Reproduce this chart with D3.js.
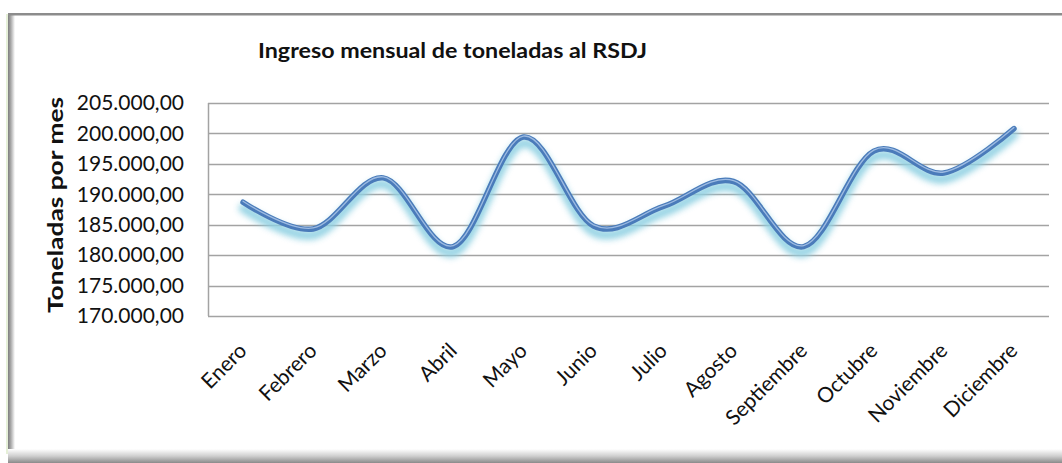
<!DOCTYPE html>
<html><head><meta charset="utf-8">
<script src="https://cdn.jsdelivr.net/npm/d3@7"></script>
<style>body{margin:0;background:#fff}svg{display:block}</style>
</head><body>
<svg id="c" width="1062" height="463"></svg>
<script>
const months = ["Enero","Febrero","Marzo","Abril","Mayo","Junio","Julio","Agosto","Septiembre","Octubre","Noviembre","Diciembre"];
const tonnes = [188700,184300,192700,181400,199400,184800,188000,192100,181400,197100,193500,200800];
const yTicks = [170000,175000,180000,185000,190000,195000,200000,205000];
const title = "Ingreso mensual de toneladas al RSDJ";
const yTitle = "Toneladas por mes";

const svg = d3.select("#c");
const W = 1062, H = 463;
const defs = svg.append("defs");
const FONT = "Lato, 'Open Sans', sans-serif";

const gl = defs.append("linearGradient").attr("id","gl").attr("x1","0").attr("x2","1").attr("y1","0").attr("y2","0");
gl.append("stop").attr("offset","0").attr("stop-color","#7d7d7d");
gl.append("stop").attr("offset","0.4").attr("stop-color","#a8a8a8");
gl.append("stop").attr("offset","1").attr("stop-color","#ffffff");
const gb = defs.append("linearGradient").attr("id","gb").attr("x1","0").attr("x2","0").attr("y1","0").attr("y2","1");
gb.append("stop").attr("offset","0").attr("stop-color","#ffffff");
gb.append("stop").attr("offset","0.5").attr("stop-color","#cfcfcf");
gb.append("stop").attr("offset","1").attr("stop-color","#8a8a8a");
const blur = defs.append("filter").attr("id","glow").attr("x","-10%").attr("y","-50%").attr("width","120%").attr("height","200%");
blur.append("feGaussianBlur").attr("stdDeviation",3);

svg.append("rect").attr("x",0).attr("y",0).attr("width",W).attr("height",H).attr("fill","#fff");
svg.append("rect").attr("x",6).attr("y",14).attr("width",2).attr("height",440).attr("fill","#e6f0d8");
svg.append("rect").attr("x",8).attr("y",14).attr("width",7).attr("height",440).attr("fill","url(#gl)");
svg.append("rect").attr("x",8).attr("y",449).attr("width",W-8).attr("height",14).attr("fill","url(#gb)");
svg.append("rect").attr("x",8).attr("y",13).attr("width",W-8).attr("height",2.5).attr("fill","#8c8c8c");

const m = {l:208, r:1049, t:103, b:316};
const x = d3.scaleBand().domain(months).range([m.l, m.r]);
const y = d3.scaleLinear().domain([170000,205000]).range([m.b, m.t]);

svg.append("g").selectAll("line").data(yTicks).join("line")
  .attr("x1",m.l).attr("x2",m.r)
  .attr("y1",d=>Math.round(y(d))+0.5).attr("y2",d=>Math.round(y(d))+0.5)
  .attr("stroke","#a3a3a3").attr("stroke-width",1.5);
svg.append("line").attr("x1",m.l+0.5).attr("x2",m.l+0.5).attr("y1",m.t).attr("y2",m.b)
  .attr("stroke","#a3a3a3").attr("stroke-width",1.5);

const fmt = v => d3.format(",.2f")(v).replace(/,/g,"#").replace(".",",").replace(/#/g,".");
const yAxis = d3.axisLeft(y).tickValues(yTicks).tickFormat(fmt).tickSize(0).tickPadding(24);
const ga = svg.append("g").attr("transform",`translate(${m.l},0)`).call(yAxis);
ga.select(".domain").remove();
ga.selectAll("text").attr("font-family",FONT).attr("font-size",21).attr("fill","#111");

const xAxis = d3.axisBottom(x).tickSize(0).tickPadding(0);
const gx = svg.append("g").attr("transform",`translate(0,${m.b})`).call(xAxis);
gx.select(".domain").remove();
gx.selectAll("text")
  .attr("font-family",FONT).attr("font-size",21).attr("fill","#111")
  .attr("text-anchor","end").attr("dy",0).attr("y",0)
  .attr("transform","translate(5,36) rotate(-45)");

const line = d3.line().x((d,i)=>x(months[i])+x.bandwidth()/2).y(d=>y(d)).curve(d3.curveCardinal.tension(0));
svg.append("path").datum(tonnes).attr("d",line).attr("fill","none")
  .attr("stroke","#8fd0e2").attr("stroke-width",9).attr("stroke-linecap","round")
  .attr("transform","translate(0,6)").attr("filter","url(#glow)").attr("opacity",0.95);
svg.append("path").datum(tonnes).attr("d",line).attr("fill","none")
  .attr("stroke","#4a7bba").attr("stroke-width",5.5).attr("stroke-linecap","round");
svg.append("path").datum(tonnes).attr("d",line).attr("fill","none")
  .attr("stroke","#9dbbe2").attr("stroke-width",1.3).attr("stroke-linecap","round")
  .attr("transform","translate(0,-1)");

svg.append("text").attr("x",258).attr("y",58).text(title)
  .attr("font-family",FONT).attr("font-weight","bold").attr("font-size",20).attr("fill","#111")
  .attr("textLength",389).attr("lengthAdjust","spacingAndGlyphs");
svg.append("text").attr("transform","translate(63,205) rotate(-90)").attr("text-anchor","middle")
  .text(yTitle).attr("font-family",FONT).attr("font-weight","bold").attr("font-size",20).attr("fill","#111")
  .attr("textLength",216).attr("lengthAdjust","spacingAndGlyphs");
</script>
</body></html>
